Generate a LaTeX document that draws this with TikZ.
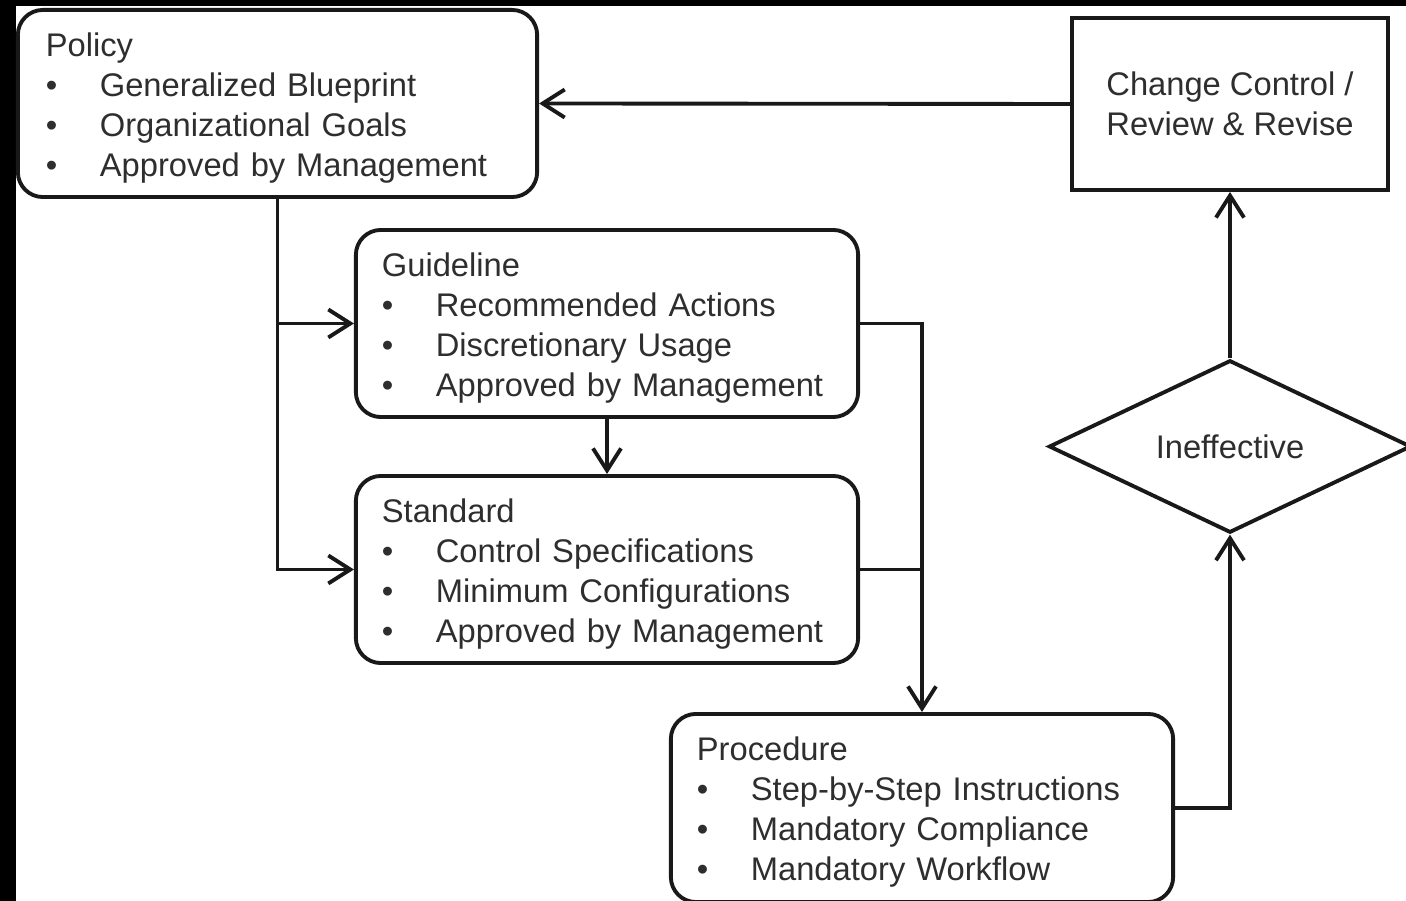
\documentclass[tikz,border=0pt]{standalone}
\usepackage{fontspec}
\setmainfont{Liberation Sans}
\usetikzlibrary{arrows.meta,shapes.geometric}
\definecolor{inkgray}{HTML}{2E2E2E}
\newcommand{\ttl}[1]{\rule{0pt}{9.1pt}#1}
\newcommand{\itm}[1]{\makebox[5.4mm][l]{\textbullet}#1}
\tikzset{
  base/.style={draw=black!90,line width=1.1pt,text=inkgray,font=\fontsize{9.3}{11.38}\selectfont},
  docbox/.style={base,rounded corners=2.5mm,minimum width=5.02cm,minimum height=1.87cm,
    text width=4.50cm,inner xsep=2.6mm,inner ysep=0pt,align=left},
  arr/.style={line width=1.1pt,draw=black!90,-{Straight Barb[length=2.2mm,width=2.8mm,line width=1.1pt]}}
}
\begin{document}
\begin{tikzpicture}[x=0.01cm,y=-0.01cm]
		\useasboundingbox (0,0) rectangle (1406,901);
		\fill[black] (0,0) rectangle (1406,901);
		\fill[white] (16,6) rectangle (1406,901);
		% boxes
		\node[docbox,minimum width=5.19cm,text width=4.63cm,inner xsep=2.8mm] (policy) at (277.5,103.5)
		  {\ttl{Policy}\\ \itm{Generalized Blueprint}\\ \itm{Organizational Goals}\\ \itm{Approved by Management}};
		\node[base,rectangle,minimum width=3.16cm,minimum height=1.72cm,align=center] (change) at (1230,104)
		  {Change Control /\\ Review \& Revise};
		\node[docbox] (guide) at (607,323.5)
		  {\ttl{Guideline}\\ \itm{Recommended Actions}\\ \itm{Discretionary Usage}\\ \itm{Approved by Management}};
		\node[docbox] (standard) at (607,569.5)
		  {\ttl{Standard}\\ \itm{Control Specifications}\\ \itm{Minimum Configurations}\\ \itm{Approved by Management}};
		\node[docbox,minimum height=1.88cm] (proc) at (922,808)
		  {\ttl{Procedure}\\ \itm{Step-by-Step Instructions}\\ \itm{Mandatory Compliance}\\ \itm{Mandatory Workflow}};
		\node[base,diamond,minimum width=3.62cm,minimum height=1.59cm,inner sep=0pt] (decide) at (1230,446.5)
		  {Ineffective};
		% connectors
		\draw[arr] (change.west) -- (policy.east);
		\draw[arr] (policy.south) |- (guide.west);
		\draw[arr] (policy.south) |- (standard.west);
		\draw[arr] (guide.south) -- (standard.north);
		\draw[arr] (guide.east) -| (proc.north);
		\draw[line width=1.1pt,draw=black!90] (standard.east) -- (standard.east -| proc.north);
		\draw[arr] (proc.east) -| (decide.south);
		\draw[arr] (decide.north) -- (change.south);
\end{tikzpicture}
\end{document}
